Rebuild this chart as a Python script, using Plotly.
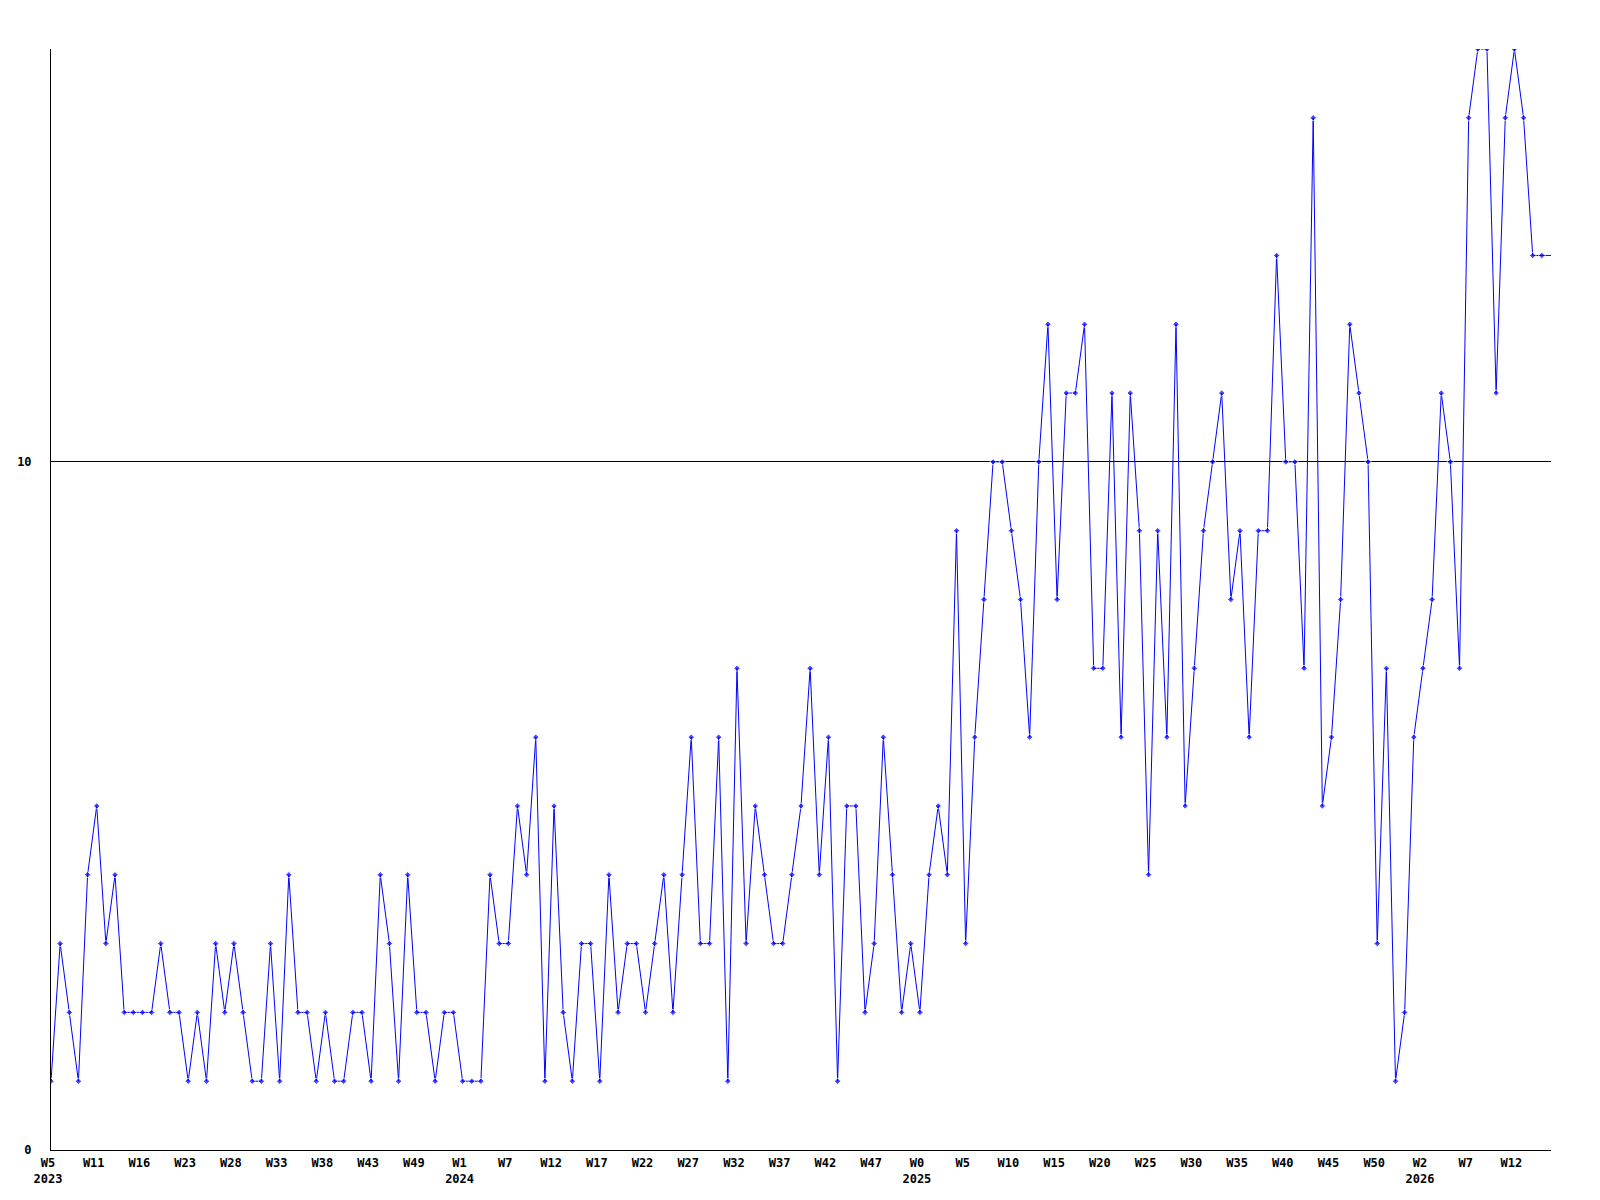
import plotly.graph_objects as go

values = [
    1, 3, 2, 1, 4, 5, 3, 4, 2, 2, 2, 2, 3, 2, 2, 1, 2, 1, 3, 2,
    3, 2, 1, 1, 3, 1, 4, 2, 2, 1, 2, 1, 1, 2, 2, 1, 4, 3, 1, 4,
    2, 2, 1, 2, 2, 1, 1, 1, 4, 3, 3, 5, 4, 6, 1, 5, 2, 1, 3, 3,
    1, 4, 2, 3, 3, 2, 3, 4, 2, 4, 6, 3, 3, 6, 1, 7, 3, 5, 4, 3,
    3, 4, 5, 7, 4, 6, 1, 5, 5, 2, 3, 6, 4, 2, 3, 2, 4, 5, 4, 9,
    3, 6, 8, 10, 10, 9, 8, 6, 10, 12, 8, 11, 11, 12, 7, 7, 11, 6, 11, 9,
    4, 9, 6, 12, 5, 7, 9, 10, 11, 8, 9, 6, 9, 9, 13, 10, 10, 7, 15, 5,
    6, 8, 12, 11, 10, 3, 7, 1, 2, 6, 7, 8, 11, 10, 7, 15, 16, 16, 11, 15,
    16, 15, 13, 13, 13,
]

week_labels = [
    "W5", "W11", "W16", "W23", "W28", "W33", "W38", "W43", "W49", "W1",
    "W7", "W12", "W17", "W22", "W27", "W32", "W37", "W42", "W47", "W0",
    "W5", "W10", "W15", "W20", "W25", "W30", "W35", "W40", "W45", "W50",
    "W2", "W7", "W12",
]
year_labels = {0: "2023", 9: "2024", 19: "2025", 30: "2026"}

x = list(range(len(values)))
tick_idx = list(range(0, 5 * len(week_labels), 5))
tick_text = [
    "<b>" + w + "</b>" + ("<br><b>" + year_labels[i] + "</b>" if i in year_labels else "")
    for i, w in enumerate(week_labels)
]
marker_sizes = [5] * (len(values) - 1) + [0]

fig = go.Figure(
    go.Scatter(
        x=x,
        y=values,
        mode="lines+markers",
        line=dict(color="#0000ff", width=1),
        marker=dict(symbol="diamond", size=marker_sizes, color="#0000ff"),
        showlegend=False,
        hoverinfo="skip",
    )
)

font = dict(family="DejaVu Sans Mono", size=12, color="black")

fig.update_layout(
    width=1600,
    height=1200,
    margin=dict(l=43, r=57, t=41, b=58, autoexpand=False),
    paper_bgcolor="white",
    plot_bgcolor="white",
    font=font,
    xaxis=dict(
        range=[0, len(values) - 1],
        tickmode="array",
        tickvals=tick_idx,
        ticktext=tick_text,
        showgrid=False,
        zeroline=False,
        showline=True,
        linecolor="black",
        linewidth=1,
        ticks="",
        ticklabelstandoff=2,
        ticklabelshift=-3,
        tickfont=font,
    ),
    yaxis=dict(
        range=[0, 16],
        tickmode="array",
        tickvals=[0, 10],
        ticktext=["<b>0</b>", "<b>10</b>"],
        showgrid=True,
        gridcolor="black",
        gridwidth=1,
        zeroline=False,
        showline=True,
        linecolor="black",
        linewidth=1,
        ticks="",
        ticklabelstandoff=16,
        tickfont=font,
    ),
)

fig.write_html("out.html")
